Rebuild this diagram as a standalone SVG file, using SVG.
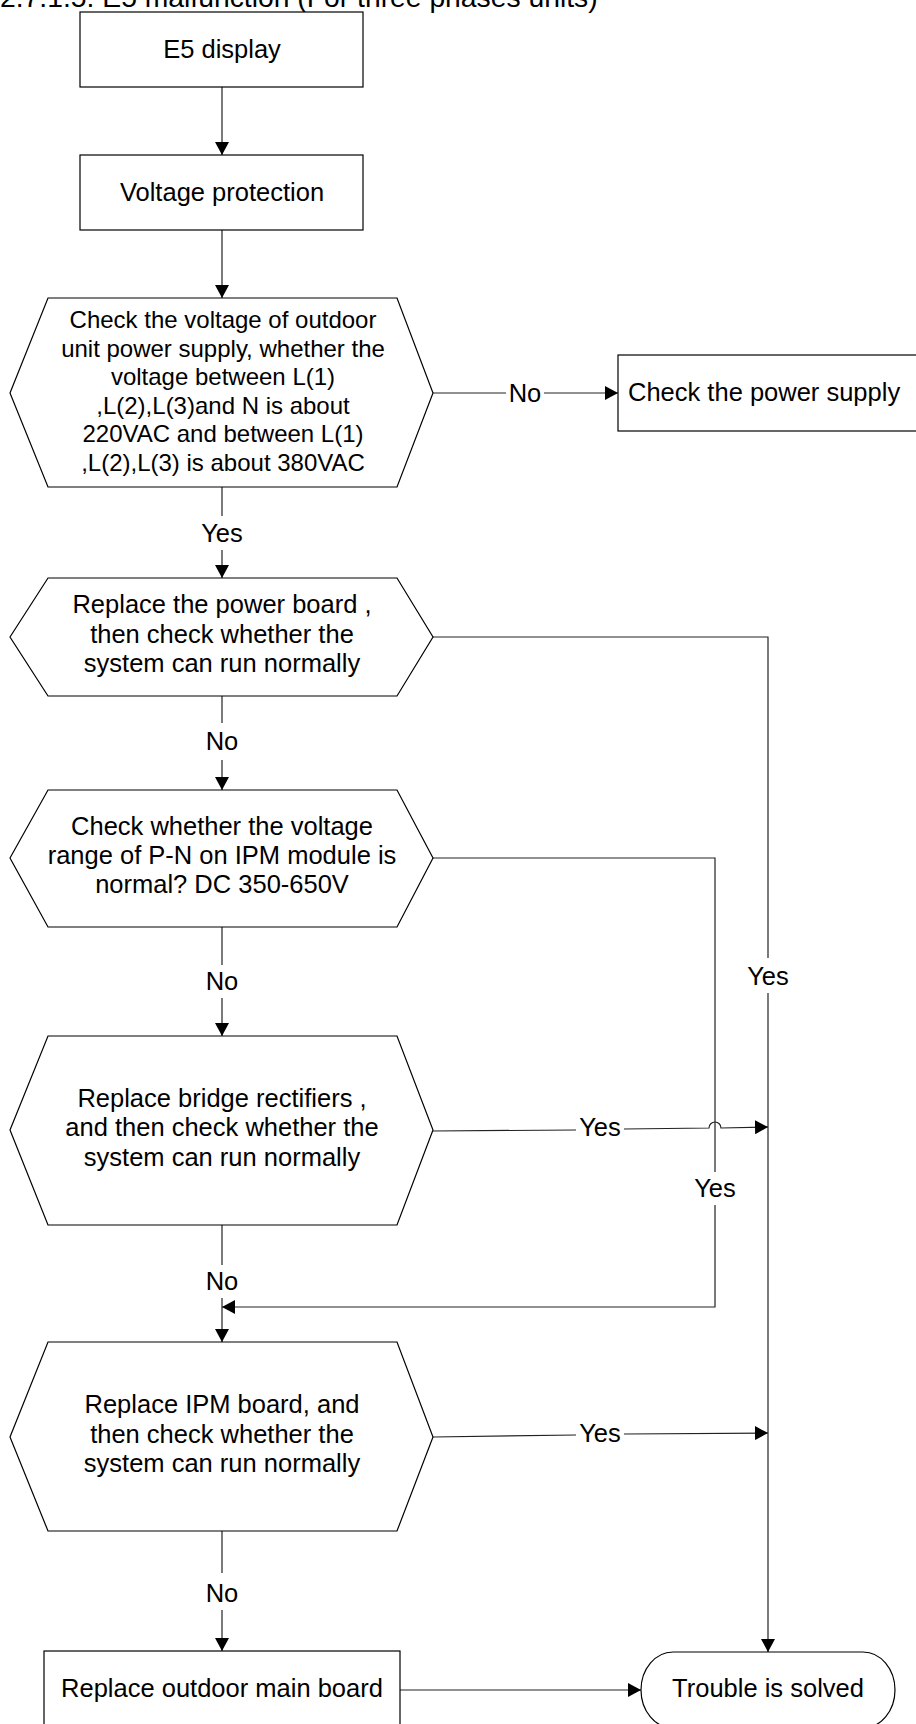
<svg xmlns="http://www.w3.org/2000/svg" width="916" height="1724" viewBox="0 0 916 1724">
<defs>
<marker id="arr" markerUnits="userSpaceOnUse" markerWidth="13" markerHeight="14" refX="13" refY="7" orient="auto">
<path d="M0,0 L13,7 L0,14 z" fill="#000"/>
</marker>
<style>
.shape{fill:#fff;stroke:#000;stroke-width:1.2}
.ln{fill:none;stroke:#222;stroke-width:1.2}
.t{font-family:"Liberation Sans",Arial,sans-serif;font-size:25.5px;fill:#000;text-anchor:middle}
.t1{font-family:"Liberation Sans",Arial,sans-serif;font-size:24px;fill:#000;text-anchor:middle}
.lbl{font-family:"Liberation Sans",Arial,sans-serif;font-size:25.5px;fill:#000;text-anchor:middle}
</style>
</defs>
<rect width="916" height="1724" fill="#fff"/>
<text x="0" y="7" style="font-family:'Liberation Sans',Arial,sans-serif;font-size:28.3px;fill:#000">2.7.1.5. E5 malfunction (For three phases units)</text>

<g id="connectors">
<path class="ln" d="M222,87 V155" marker-end="url(#arr)"/>
<path class="ln" d="M222,230 V298" marker-end="url(#arr)"/>
<path class="ln" d="M433,393 H506"/>
<path class="ln" d="M544,393 H618" marker-end="url(#arr)"/>
<text class="lbl" x="525" y="402">No</text>
<path class="ln" d="M222,487 V516"/>
<path class="ln" d="M222,550 V578" marker-end="url(#arr)"/>
<text class="lbl" x="222" y="542">Yes</text>
<path class="ln" d="M222,696 V723"/>
<path class="ln" d="M222,760 V790" marker-end="url(#arr)"/>
<text class="lbl" x="222" y="750">No</text>
<path class="ln" d="M433,637 H768 V958"/>
<path class="ln" d="M768,993 V1652" marker-end="url(#arr)"/>
<text class="lbl" x="768" y="985">Yes</text>
<path class="ln" d="M222,927 V965"/>
<path class="ln" d="M222,998 V1036" marker-end="url(#arr)"/>
<text class="lbl" x="222" y="990">No</text>
<path class="ln" d="M433,858 H715 V1172"/>
<path class="ln" d="M715,1205 V1307 H222" marker-end="url(#arr)"/>
<text class="lbl" x="715" y="1197">Yes</text>
<path class="ln" d="M433,1131 L576,1130"/>
<path class="ln" d="M624,1129 L709,1128 A6,6 0 0 1 721,1128 L768,1127" marker-end="url(#arr)"/>
<text class="lbl" x="600" y="1136">Yes</text>
<path class="ln" d="M222,1225 V1265"/>
<path class="ln" d="M222,1298 V1342" marker-end="url(#arr)"/>
<text class="lbl" x="222" y="1290">No</text>
<path class="ln" d="M433,1437 L576,1435"/>
<path class="ln" d="M624,1434 L768,1433" marker-end="url(#arr)"/>
<text class="lbl" x="600" y="1442">Yes</text>
<path class="ln" d="M222,1531 V1573"/>
<path class="ln" d="M222,1610 V1651" marker-end="url(#arr)"/>
<text class="lbl" x="222" y="1602">No</text>
<path class="ln" d="M400,1690 H641" marker-end="url(#arr)"/>
</g>

<g id="n-e5">
<rect class="shape" x="80" y="12" width="283" height="75"/>
<text class="t" x="222" y="58">E5 display</text>
</g>
<g id="n-vp">
<rect class="shape" x="80" y="155" width="283" height="75"/>
<text class="t" x="222" y="201">Voltage protection</text>
</g>
<g id="n-check-voltage">
<polygon class="shape" points="10,393 48,298 397,298 433,393 397,487 48,487"/>
<text class="t1" x="223" y="328">Check the voltage of outdoor</text>
<text class="t1" x="223" y="356.5">unit power supply, whether the</text>
<text class="t1" x="223" y="385">voltage between L(1)</text>
<text class="t1" x="223" y="413.5">,L(2),L(3)and N is about</text>
<text class="t1" x="223" y="442">220VAC and between L(1)</text>
<text class="t1" x="223" y="470.5">,L(2),L(3) is about 380VAC</text>
</g>
<g id="n-power-supply">
<rect class="shape" x="618" y="355" width="310" height="76"/>
<text class="t" x="628" y="401" style="text-anchor:start">Check the power supply</text>
</g>
<g id="n-power-board">
<polygon class="shape" points="10,637 48,578 397,578 433,637 397,696 48,696"/>
<text class="t" x="222" y="613">Replace the power board ,</text>
<text class="t" x="222" y="643">then check whether the</text>
<text class="t" x="222" y="672">system can run normally</text>
</g>
<g id="n-pn">
<polygon class="shape" points="10,858 48,790 397,790 433,858 397,927 48,927"/>
<text class="t" x="222" y="835">Check whether the voltage</text>
<text class="t" x="222" y="864">range of P-N on IPM module is</text>
<text class="t" x="222" y="893">normal? DC 350-650V</text>
</g>
<g id="n-bridge">
<polygon class="shape" points="10,1130 48,1036 397,1036 433,1130 397,1225 48,1225"/>
<text class="t" x="222" y="1107">Replace bridge rectifiers ,</text>
<text class="t" x="222" y="1136">and then check whether the</text>
<text class="t" x="222" y="1166">system can run normally</text>
</g>
<g id="n-ipm">
<polygon class="shape" points="10,1437 48,1342 397,1342 433,1437 397,1531 48,1531"/>
<text class="t" x="222" y="1413">Replace IPM board, and</text>
<text class="t" x="222" y="1443">then check whether the</text>
<text class="t" x="222" y="1472">system can run normally</text>
</g>
<g id="n-main-board">
<rect class="shape" x="44" y="1651" width="356" height="77"/>
<text class="t" x="222" y="1697">Replace outdoor main board</text>
</g>
<g id="n-solved">
<rect class="shape" x="641" y="1652" width="254" height="76" rx="32" ry="38"/>
<text class="t" x="768" y="1697">Trouble is solved</text>
</g>
</svg>
